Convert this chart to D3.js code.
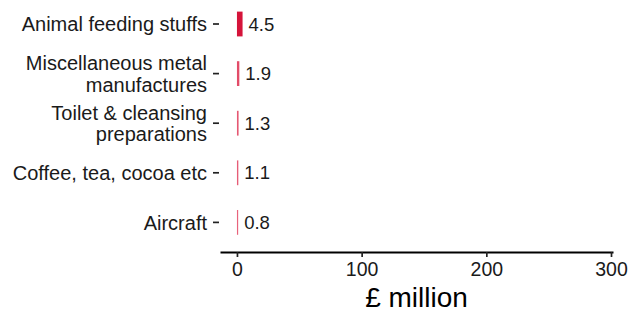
<!DOCTYPE html>
<html>
<head>
<meta charset="utf-8">
<script src="https://cdn.jsdelivr.net/npm/d3@7"></script>
<style>
  body { margin: 0; background: #fff; }
  svg text { font-family: "Liberation Sans", Arial, sans-serif; }
</style>
</head>
<body>
<svg id="chart" width="630" height="316"></svg>
<script>
// data
var categories = [
  ["Animal feeding stuffs"],
  ["Miscellaneous metal", "manufactures"],
  ["Toilet & cleansing", "preparations"],
  ["Coffee, tea, cocoa etc"],
  ["Aircraft"]
];
var values = [4.5, 1.9, 1.3, 1.1, 0.8];
var valueLabels = ["4.5", "1.9", "1.3", "1.1", "0.8"];
var xTicks = [0, 100, 200, 300];

var svg = d3.select("#chart");
var margin = { top: 0, right: 17, bottom: 64, left: 220 };
var width = 630 - margin.left - margin.right,
    height = 316 - margin.top - margin.bottom;

var g = svg.append("g")
  .attr("transform", "translate(" + margin.left + "," + margin.top + ")");

// scales
var x = d3.scaleLinear()
  .domain([-13.6, 301.6])
  .range([0, width]);

var y = d3.scaleBand()
  .domain(d3.range(values.length))
  .range([0, 246.4])
  .paddingInner(0.5)
  .paddingOuter(0.234);

var color = d3.scaleLinear()
  .domain([0.8, 4.5])
  .range(["#e8637c", "#d5143a"]);

// bars
g.selectAll(".bar")
  .data(values)
  .enter()
  .append("rect")
  .attr("class", "bar")
  .attr("x", x(0))
  .attr("y", function(d, i) { return y(i); })
  .attr("width", function(d) { return Math.max(1.2, x(d) - x(0)); })
  .attr("height", y.bandwidth())
  .style("fill", function(d) { return color(d); });

// value labels
g.selectAll(".val")
  .data(values)
  .enter()
  .append("text")
  .attr("class", "val")
  .attr("x", function(d) { return Math.max(x(0) + 1.2, x(d)) + 6; })
  .attr("y", function(d, i) { return y(i) + y.bandwidth() / 2; })
  .attr("dy", "0.36em")
  .style("font-size", "18.5px")
  .style("fill", "#1a1a1a")
  .text(function(d, i) { return valueLabels[i]; });

// y axis (ticks and labels only)
var yAxis = g.append("g")
  .call(d3.axisLeft(y).tickSize(7).tickPadding(6).tickFormat(""));
yAxis.select(".domain").remove();
yAxis.selectAll(".tick line").attr("stroke", "#222").attr("stroke-width", 1.7).attr("x1", -1);

yAxis.selectAll(".tick").each(function(d) {
  var lines = categories[d];
  var t = d3.select(this).append("text")
    .attr("x", -13)
    .attr("text-anchor", "end")
    .style("font-size", "20px")
    .style("fill", "#1a1a1a");
  lines.forEach(function(l, k) {
    t.append("tspan")
      .attr("x", -13)
      .attr("y", (k - (lines.length - 1) / 2) * 21.5)
      .attr("dy", "0.36em")
      .text(l);
  });
});

// x axis
var xAxis = g.append("g")
  .attr("transform", "translate(0," + height + ")")
  .call(d3.axisBottom(x).tickValues(xTicks).tickSize(5).tickSizeOuter(0).tickPadding(5));
xAxis.select(".domain").attr("stroke", "#000").attr("stroke-width", 2);
xAxis.selectAll(".tick line").attr("stroke", "#222").attr("stroke-width", 1.7);
xAxis.selectAll(".tick text")
  .style("font-size", "19.5px")
  .style("fill", "#1a1a1a");

g.append("text")
  .attr("x", (x(-13.6) + x(301.6)) / 2)
  .attr("y", height + 55)
  .attr("text-anchor", "middle")
  .style("font-size", "28px")
  .style("fill", "#000")
  .text("£ million");
</script>
</body>
</html>
